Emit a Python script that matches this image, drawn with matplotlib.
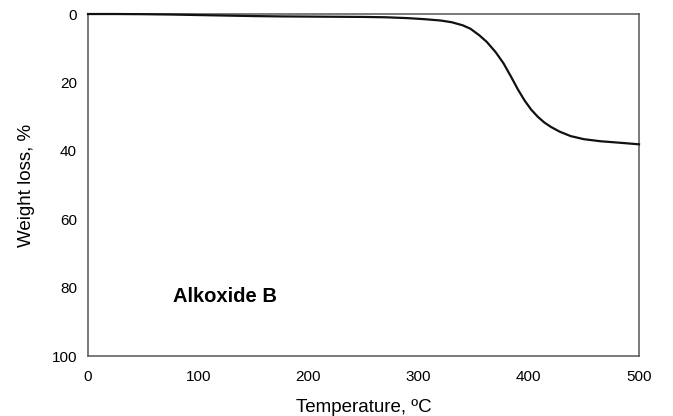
import matplotlib.pyplot as plt

plt.rcParams['font.family'] = ['Liberation Sans', 'DejaVu Sans']

# TGA curve
temperature = [0, 25, 50, 75, 100, 125, 150, 175, 200, 225, 250, 270, 290, 305,
               320, 330, 340, 347, 355, 362, 370, 377, 384, 390, 396, 402, 408,
               414, 420, 428, 438, 450, 465, 485, 500]
weight_loss = [0, 0, 0.05, 0.15, 0.3, 0.45, 0.6, 0.7, 0.75, 0.8, 0.85, 0.95, 1.2,
               1.5, 1.9, 2.4, 3.3, 4.3, 6.2, 8.2, 11.2, 14.4, 18.4, 22.0, 25.2,
               27.9, 30.0, 31.7, 33.0, 34.4, 35.7, 36.6, 37.2, 37.7, 38.1]
x_ticks = [0, 100, 200, 300, 400, 500]
y_ticks = [0, 20, 40, 60, 80, 100]

fig = plt.figure(figsize=(6.73, 4.16), dpi=100)
ax = fig.add_axes([0.1308, 0.1442, 0.8187, 0.8221])

ax.plot(temperature, weight_loss, color='#111111', lw=1.6, clip_on=False, zorder=3)

ax.set_xlim(0, 500)
ax.set_ylim(100, 0)
ax.set_xticks(x_ticks)
ax.set_yticks(y_ticks)
ax.tick_params(length=0, labelsize=11, colors='black')
ax.tick_params(axis='x', pad=10)
ax.tick_params(axis='y', pad=8)

for s in ax.spines.values():
    s.set_color('#555555')
    s.set_linewidth(1.1)

ax.set_xlabel('Temperature, ºC', fontsize=13.5, labelpad=11)
ax.set_ylabel('Weight loss, %', fontsize=13.5, labelpad=12)

ax.text(77, 82.5, 'Alkoxide B', fontsize=14.5, fontweight='bold', ha='left', va='center')

fig.savefig('out.png', dpi=100)
